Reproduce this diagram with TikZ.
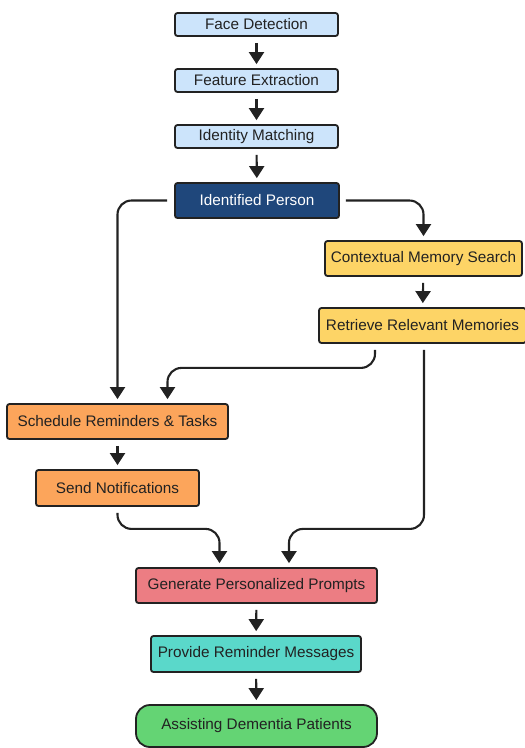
\documentclass[tikz,border=0pt]{standalone}
\usepackage{fontspec}
\setmainfont{Liberation Sans}
\usetikzlibrary{arrows.meta,calc}
\definecolor{line}{HTML}{222222}
\definecolor{txt}{HTML}{222222}
\definecolor{lblue}{HTML}{CCE4FB}
\definecolor{dblue}{HTML}{1F477B}
\definecolor{yel}{HTML}{FDD466}
\definecolor{ora}{HTML}{FCA55B}
\definecolor{redf}{HTML}{EC7D83}
\definecolor{teal}{HTML}{5AD8CA}
\definecolor{grn}{HTML}{64D474}
\begin{document}
\begin{tikzpicture}[x=1pt,y=-1pt,
  box/.style={draw=line, line width=1.8pt, rounded corners=2.5pt, inner sep=0pt,
    font=\fontsize{15.3}{17}\selectfont, text=txt},
  arr/.style={draw=line, line width=2.1pt, -{Triangle[width=15pt,length=12pt]},
    rounded corners=14pt, shorten <=6pt, shorten >=4pt}]
\useasboundingbox (0,0) rectangle (525,748);

\node[box, fill=lblue, minimum width=163pt, minimum height=23pt] (fd) at (256.5,24.5) {Face Detection};
\node[box, fill=lblue, minimum width=163pt, minimum height=23pt] (fe) at (256.5,80.5) {Feature Extraction};
\node[box, fill=lblue, minimum width=163pt, minimum height=23pt] (im) at (256.5,136.5) {Identity Matching};
\node[box, fill=dblue, text=white, minimum width=164pt, minimum height=35pt] (ip) at (257,200.5) {Identified Person};
\node[box, fill=yel, minimum width=197pt, minimum height=35pt] (cms) at (423.5,258.5) {Contextual Memory Search};
\node[box, fill=yel, minimum width=207pt, minimum height=35pt] (rrm) at (422.5,325.5) {Retrieve Relevant Memories};
\node[box, fill=ora, minimum width=221pt, minimum height=35pt] (srt) at (117.5,421.5) {Schedule Reminders \& Tasks};
\node[box, fill=ora, minimum width=163pt, minimum height=36pt] (sn) at (117.5,488) {Send Notifications};
\node[box, fill=redf, minimum width=241pt, minimum height=35pt] (gpp) at (256.5,585.5) {Generate Personalized Prompts};
\node[box, fill=teal, minimum width=210pt, minimum height=36pt] (prm) at (256,654) {Provide Reminder Messages};
\node[box, fill=grn, rounded corners=14pt, minimum width=241pt, minimum height=42pt] (adp) at (256.5,726) {Assisting Dementia Patients};

\draw[arr] (fd) -- (fe);
\draw[arr] (fe) -- (im);
\draw[arr] (im) -- (ip);
\draw[arr, shorten <=0pt] ([xshift=-7pt]ip.west) -| (srt.north);
\draw[arr, shorten <=0pt] ([xshift=6pt]ip.east) -| (cms.north);
\draw[arr] (cms) -- (rrm);
\draw[arr, shorten <=0pt] ($(rrm.south)+(-47.5,6)$) -- ++(0,18) -| ($(srt.north)+(50,0)$);
\draw[arr, shorten <=0pt] ($(rrm.south)+(1.5,6)$) -- ++(0,179) -| ($(gpp.north)+(32.5,0)$);
\draw[arr] (srt) -- (sn);
\draw[arr, shorten <=0pt] ($(sn.south)+(0,6)$) -- ++(0,16) -| ($(gpp.north)+(-37,0)$);
\draw[arr] (gpp) -- (prm);
\draw[arr] (prm) -- (adp);
\end{tikzpicture}
\end{document}
